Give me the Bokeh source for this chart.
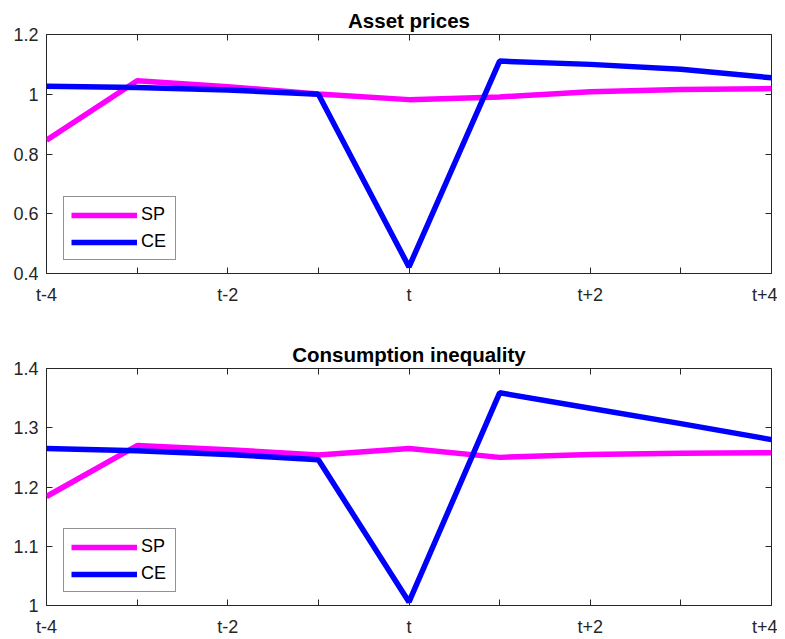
from bokeh.plotting import figure
from bokeh.layouts import column
from bokeh.models import FixedTicker, LinearAxis, Legend, LegendItem, Range1d
from bokeh.embed import file_html
from bokeh.resources import INLINE

# ---- data ----
periods = [-4, -3, -2, -1, 0, 1, 2, 3, 4]
period_labels = ["t-4", "", "t-2", "", "t", "", "t+2", "", "t+4"]

asset_sp = [0.846, 1.045, 1.025, 1.001, 0.982, 0.991, 1.008, 1.016, 1.019]
asset_ce = [1.027, 1.023, 1.014, 1.000, 0.422, 1.111, 1.100, 1.084, 1.055]

cons_sp = [1.184, 1.270, 1.263, 1.254, 1.265, 1.250, 1.255, 1.257, 1.258]
cons_ce = [1.265, 1.261, 1.255, 1.246, 1.006, 1.359, 1.333, 1.307, 1.280]

asset_yticks = [0.4, 0.6, 0.8, 1.0, 1.2]
asset_ylabels = ["0.4", "0.6", "0.8", "1", "1.2"]
cons_yticks = [1.0, 1.1, 1.2, 1.3, 1.4]
cons_ylabels = ["1", "1.1", "1.2", "1.3", "1.4"]

FONT = "Liberation Sans"
AX = "#262626"
SP_COLOR = "#FF00FF"
CE_COLOR = "#0000FF"


def make_panel(title, sp, ce, yticks, ylabels, height, top, bottom):
    p = figure(width=777, height=height, output_backend="svg", toolbar_location=None,
               x_range=Range1d(-4, 4), y_range=Range1d(yticks[0], yticks[-1]),
               min_border_left=46, min_border_right=6,
               min_border_top=top, min_border_bottom=bottom,
               x_axis_type=None, y_axis_type=None)
    p.title.text = title
    p.title.align = "center"
    p.title.text_font = FONT
    p.title.text_font_size = "20.5px"
    p.title.text_font_style = "bold"
    p.title.text_color = "black"
    p.title.standoff = 6
    p.grid.visible = False
    p.outline_line_color = AX
    p.outline_line_width = 1
    p.outline_line_alpha = 1

    xlab = {periods[i]: period_labels[i] for i in range(len(periods))}
    ylab = {yticks[i]: ylabels[i] for i in range(len(yticks))}

    def style(ax):
        ax.axis_line_color = None
        ax.major_tick_in = 6
        ax.major_tick_out = 0
        ax.major_tick_line_color = AX
        ax.minor_tick_line_color = None
        ax.major_label_text_font = FONT
        ax.major_label_text_font_size = "18px"
        ax.major_label_text_color = AX

    xb = LinearAxis(ticker=FixedTicker(ticks=periods), major_label_overrides=xlab)
    style(xb)
    xb.major_label_standoff = 11
    p.add_layout(xb, "below")

    yl = LinearAxis(ticker=FixedTicker(ticks=yticks), major_label_overrides=ylab)
    style(yl)
    yl.major_label_standoff = 8
    p.add_layout(yl, "left")

    xt = LinearAxis(ticker=FixedTicker(ticks=periods),
                    major_label_overrides={k: "" for k in periods})
    style(xt)
    xt.major_label_standoff = 0
    xt.major_label_text_font_size = "0px"
    p.add_layout(xt, "above")

    yr = LinearAxis(ticker=FixedTicker(ticks=yticks),
                    major_label_overrides={k: "" for k in yticks})
    style(yr)
    yr.major_label_standoff = 0
    yr.major_label_text_font_size = "0px"
    p.add_layout(yr, "right")

    r1 = p.line(periods, sp, line_color=SP_COLOR, line_width=5.5)
    r2 = p.line(periods, ce, line_color=CE_COLOR, line_width=5.5)

    leg = Legend(items=[LegendItem(label="SP", renderers=[r1]),
                        LegendItem(label="CE", renderers=[r2])],
                 location=(17, 13))
    leg.glyph_width = 66
    leg.glyph_height = 18
    leg.label_height = 18
    leg.label_width = 27
    leg.label_standoff = 4
    leg.spacing = 6
    leg.padding = 7
    leg.margin = 0
    leg.label_text_font = FONT
    leg.label_text_font_size = "18px"
    leg.label_text_color = "black"
    leg.border_line_color = AX
    leg.border_line_width = 1
    leg.background_fill_color = "white"
    leg.background_fill_alpha = 1
    p.add_layout(leg, "center")
    return p


p1 = make_panel("Asset prices", asset_sp, asset_ce, asset_yticks, asset_ylabels,
                320, 34, 47)
p2 = make_panel("Consumption inequality", cons_sp, cons_ce, cons_yticks, cons_ylabels,
                319, 48, 33)

layout = column(p1, p2, spacing=0)
open("out.html", "w").write(file_html(layout, INLINE))
